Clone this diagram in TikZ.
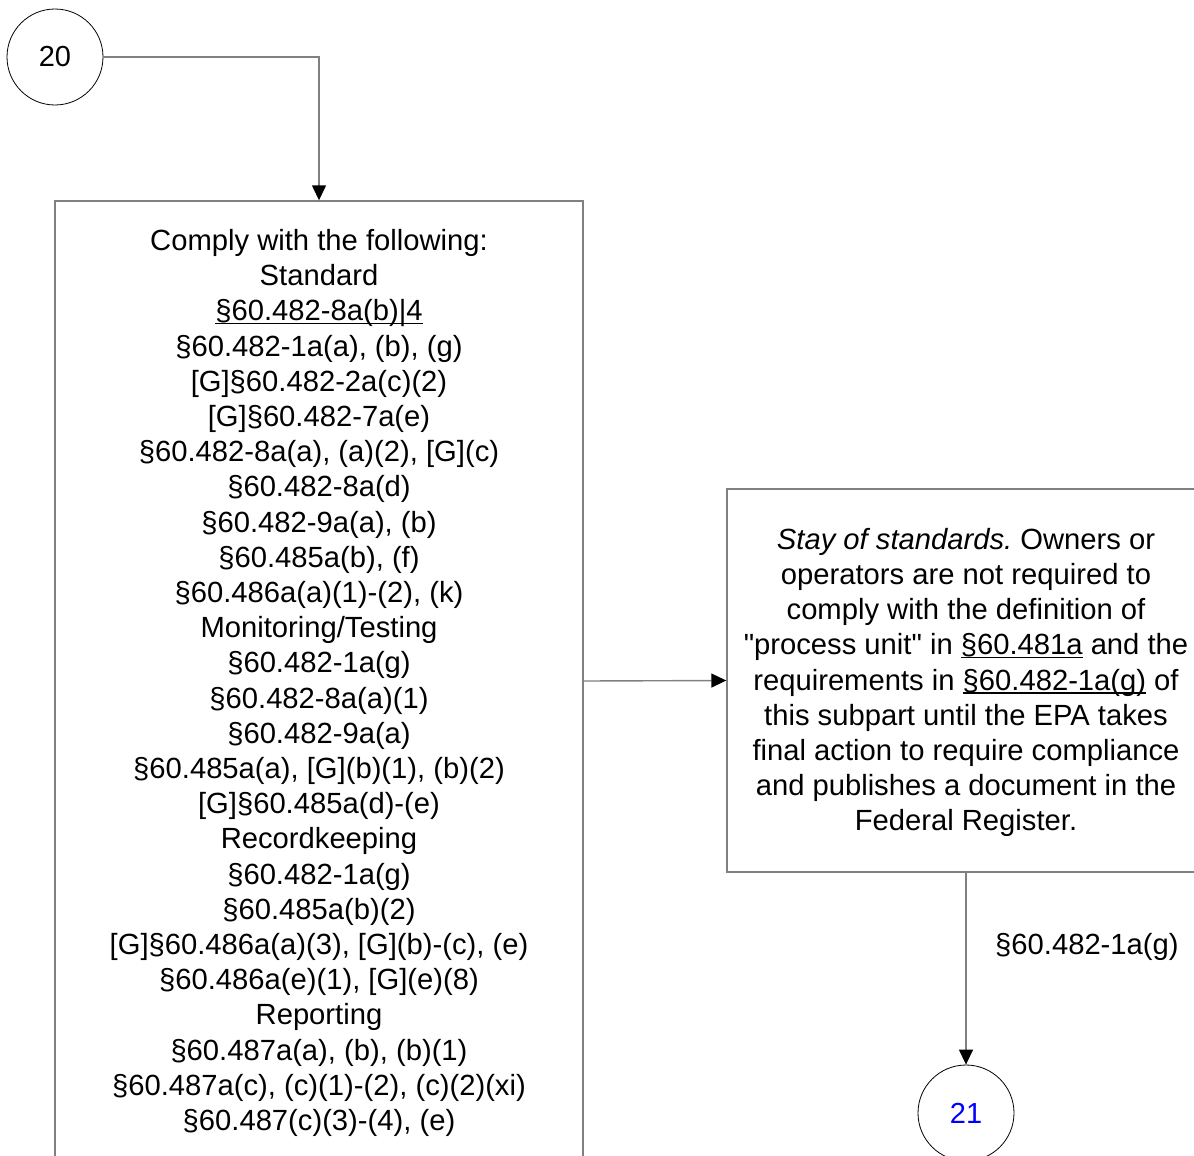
\documentclass[tikz,border=0pt]{standalone}
\usepackage{fontspec}
\setmainfont{Liberation Sans}
\usetikzlibrary{arrows.meta}
\frenchspacing
% underline at a fixed depth, independent of descenders
\newcommand{\ulsec}[1]{{\setbox0\hbox{#1}\rlap{\rule[-3.5pt]{\wd0}{1.6pt}}\box0}}
\definecolor{edgegray}{RGB}{128,128,128}
\begin{document}
\begin{tikzpicture}[x=1pt,y=-1pt,
  txt/.style={font=\fontsize{29.2}{35.2}\selectfont, align=center, inner sep=0pt},
  box/.style={draw=edgegray, line width=1.4pt, inner sep=0pt},
  conn/.style={draw=edgegray, line width=1.4pt, -{Triangle[length=15pt,width=14pt,color=black]}},
  connector/.style={draw, circle, line width=0.8pt, minimum size=96pt, inner sep=0pt,
    font=\fontsize{29}{35.2}\selectfont}]
\useasboundingbox (0,0) rectangle (1194,1156);

% off-page connectors
\node[connector] (c20) at (55,57) {20};
\node[connector, text={rgb,255:red,0;green,0;blue,255}] (c21) at (966,1113) {21};

% requirements box
\node[box, minimum width=528pt, minimum height=960pt] (req) at (319,681) {};
\node[txt] (reqtext) at (319,683) {Comply with the following:\\
Standard\\
\ulsec{§60.482-8a(b)|4}\\
§60.482-1a(a), (b), (g)\\
{[G]}§60.482-2a(c)(2)\\
{[G]}§60.482-7a(e)\\
§60.482-8a(a), (a)(2), [G](c)\\
§60.482-8a(d)\\
§60.482-9a(a), (b)\\
§60.485a(b), (f)\\
§60.486a(a)(1)-(2), (k)\\
Monitoring/Testing\\
§60.482-1a(g)\\
§60.482-8a(a)(1)\\
§60.482-9a(a)\\
§60.485a(a), [G](b)(1), (b)(2)\\
{[G]}§60.485a(d)-(e)\\
Recordkeeping\\
§60.482-1a(g)\\
§60.485a(b)(2)\\
{[G]}§60.486a(a)(3), [G](b)-(c), (e)\\
§60.486a(e)(1), [G](e)(8)\\
Reporting\\
§60.487a(a), (b), (b)(1)\\
§60.487a(c), (c)(1)-(2), (c)(2)(xi)\\
§60.487(c)(3)-(4), (e)};

% stay of standards box
\node[box, minimum width=478pt, minimum height=383pt] (stay) at (966,680.5) {};
\node[txt] (staytext) at (966,682.5) {\textit{Stay of standards.} Owners or\\
operators are not required to\\
comply with the definition of\\
\textquotedbl process unit\textquotedbl{} in \ulsec{§60.481a} and the\\
requirements in \ulsec{§60.482-1a(g)} of\\
this subpart until the EPA takes\\
final action to require compliance\\
and publishes a document in the\\
Federal Register.};

% connectors
\draw[conn] (c20.east) -| (req.north);
\draw[conn] (req.east) -- (stay.west);
\draw[conn] (stay.south) -- (c21.north);
\node[txt, anchor=west] (lbl) at (995,947) {§60.482-1a(g)};
\end{tikzpicture}
\end{document}
